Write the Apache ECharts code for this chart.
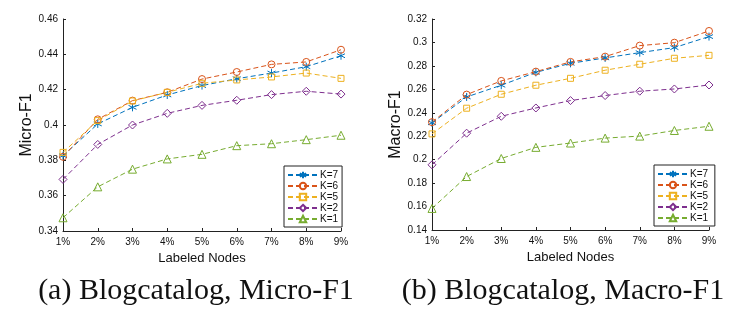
<!DOCTYPE html>
<html>
<head>
<meta charset="utf-8">
<script src="https://cdn.jsdelivr.net/npm/echarts@6/dist/echarts.min.js"></script>
<style>
  html, body { margin: 0; padding: 0; background: #fff; }
  #chart { width: 750px; height: 325px; }
</style>
</head>
<body>
<div id="chart"></div>
<script>
// Fraction of labeled nodes
const categories = ['1%', '2%', '3%', '4%', '5%', '6%', '7%', '8%', '9%'];
const seriesNames = ['K=7', 'K=6', 'K=5', 'K=2', 'K=1'];

// Micro-F1 on Blogcatalog
const microK7 = [0.3826, 0.4006, 0.4100, 0.4170, 0.4223, 0.4262, 0.4294, 0.4330, 0.4392];
const microK6 = [0.3820, 0.4032, 0.4138, 0.4185, 0.4260, 0.4300, 0.4343, 0.4357, 0.4426];
const microK5 = [0.3845, 0.4025, 0.4136, 0.4185, 0.4236, 0.4255, 0.4272, 0.4294, 0.4264];
const microK2 = [0.3692, 0.3890, 0.4000, 0.4066, 0.4111, 0.4140, 0.4172, 0.4191, 0.4175];
const microK1 = [0.3475, 0.3650, 0.3750, 0.3808, 0.3834, 0.3883, 0.3894, 0.3917, 0.3942];

// Macro-F1 on Blogcatalog
const macroK7 = [0.2314, 0.2535, 0.2635, 0.2745, 0.2822, 0.2868, 0.2913, 0.2956, 0.3050];
const macroK6 = [0.2320, 0.2555, 0.2672, 0.2751, 0.2834, 0.2879, 0.2973, 0.2998, 0.3098];
const macroK5 = [0.2220, 0.2439, 0.2558, 0.2635, 0.2694, 0.2763, 0.2814, 0.2865, 0.2890];
const macroK2 = [0.1956, 0.2226, 0.2370, 0.2441, 0.2504, 0.2547, 0.2584, 0.2603, 0.2637];
const macroK1 = [0.1584, 0.1856, 0.2010, 0.2105, 0.2142, 0.2184, 0.2201, 0.2249, 0.2285];

// Axis ranges
const microAxis = { min: 0.34, max: 0.46, interval: 0.02 };
const macroAxis = { min: 0.14, max: 0.32, interval: 0.02 };

const colors = ['#0072BD', '#D95319', '#EDB120', '#7E2F8E', '#77AC30'];
const asterisk = 'path://M0,-5L0,5M-4.5,-2.5L4.5,2.5M-4.5,2.5L4.5,-2.5';
const symbols = [asterisk, 'circle', 'rect', 'diamond', 'triangle'];
const symbolSizes = [8, 7, 6, 8, 8];

const uiFont = 'Liberation Sans, Arial, sans-serif';

function buildSeries(dataSets, axisIndex) {
  return dataSets.map((data, i) => ({
    name: seriesNames[i],
    type: 'line',
    xAxisIndex: axisIndex,
    yAxisIndex: axisIndex,
    data: data,
    symbol: symbols[i],
    symbolSize: symbolSizes[i],
    showAllSymbol: true,
    animation: false,
    lineStyle: { color: colors[i], width: 1, type: [5, 3] },
    itemStyle: {
      color: i === 0 ? colors[i] : 'rgba(255,255,255,0)',
      borderColor: colors[i],
      borderWidth: 1
    },
    emphasis: { disabled: true }
  }));
}

function xAxisOf(gridIndex) {
  return {
    type: 'category',
    gridIndex: gridIndex,
    data: categories,
    boundaryGap: false,
    name: 'Labeled Nodes',
    nameLocation: 'middle',
    nameGap: 21,
    nameTextStyle: { fontFamily: uiFont, fontSize: 13, color: '#111' },
    axisLine: { lineStyle: { color: '#222', width: 1 } },
    axisTick: { inside: true, length: 3, alignWithLabel: true, lineStyle: { color: '#222' } },
    axisLabel: { fontFamily: uiFont, fontSize: 10, color: '#111', margin: 6 },
    splitLine: { show: false }
  };
}

function yAxisOf(gridIndex, range, title, gap) {
  return {
    type: 'value',
    gridIndex: gridIndex,
    min: range.min,
    max: range.max,
    interval: range.interval,
    name: title,
    nameLocation: 'middle',
    nameGap: gap,
    nameTextStyle: { fontFamily: uiFont, fontSize: 16, color: '#111' },
    axisLine: { show: true, lineStyle: { color: '#222', width: 1 } },
    axisTick: { show: true, inside: true, length: 3, lineStyle: { color: '#222' } },
    axisLabel: {
      fontFamily: uiFont, fontSize: 10, color: '#111', margin: 5,
      formatter: v => String(parseFloat(v.toFixed(2)))
    },
    splitLine: { show: false }
  };
}

function legendOf(names, left, top) {
  return {
    data: names,
    left: left,
    top: top,
    orient: 'vertical',
    itemGap: 1,
    itemWidth: 30,
    itemHeight: 8,
    padding: [4, 4, 3, 3],
    borderColor: '#222',
    borderWidth: 1,
    backgroundColor: '#fff',
    textStyle: { fontFamily: uiFont, fontSize: 10, color: '#111', padding: [0, 0, 0, -3] },
    selectedMode: false
  };
}

const chart = echarts.init(document.getElementById('chart'), null, { renderer: 'canvas' });

const microSeries = buildSeries([microK7, microK6, microK5, microK2, microK1], 0);
const macroSeries = buildSeries([macroK7, macroK6, macroK5, macroK2, macroK1], 1);
// Each panel gets its own legend bound to its own series set
macroSeries.forEach(s => { s.name = s.name + ' '; });

const captionStyle = { fontFamily: 'Liberation Serif, serif', fontSize: 30, fontWeight: 'normal', color: '#111' };

chart.setOption({
  backgroundColor: '#fff',
  animation: false,
  grid: [
    { left: 63, right: 409, top: 19, bottom: 94 },
    { left: 432, right: 41, top: 19, bottom: 95 }
  ],
  xAxis: [xAxisOf(0), xAxisOf(1)],
  yAxis: [
    yAxisOf(0, microAxis, 'Micro-F1', 27),
    yAxisOf(1, macroAxis, 'Macro-F1', 23)
  ],
  legend: [
    legendOf(seriesNames, 284, 166),
    legendOf(seriesNames.map(n => n + ' '), 654, 165)
  ],
  title: [
    { text: '(a) Blogcatalog, Micro-F1', left: 191, top: 271, textAlign: 'center', textStyle: captionStyle },
    { text: '(b) Blogcatalog, Macro-F1', left: 558, top: 271, textAlign: 'center', textStyle: captionStyle }
  ],
  series: microSeries.concat(macroSeries)
});
</script>
</body>
</html>
